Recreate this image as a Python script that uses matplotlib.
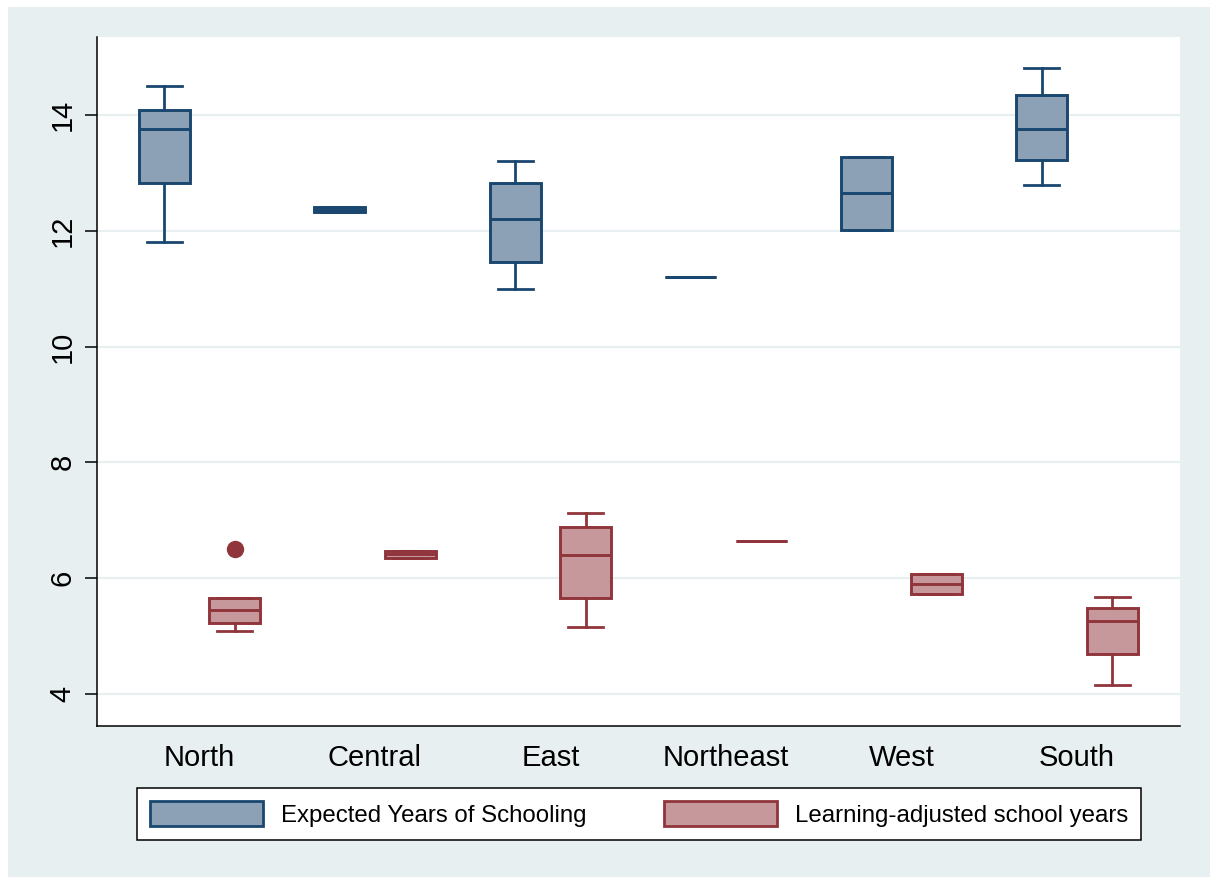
import matplotlib
matplotlib.use("Agg")
import matplotlib.pyplot as plt
from matplotlib.patches import Patch, Rectangle

plt.rcParams["font.family"] = ["Liberation Sans", "DejaVu Sans"]

regions = ["North", "Central", "East", "Northeast", "West", "South"]
series_labels = ["Expected Years of Schooling", "Learning-adjusted school years"]

# Expected Years of Schooling: box-plot summary per region
eys_whislo = [11.80, 12.32, 11.00, 11.20, 12.02, 12.80]
eys_q1 = [12.82, 12.32, 11.46, 11.20, 12.02, 13.23]
eys_med = [13.76, 12.365, 12.21, 11.20, 12.65, 13.76]
eys_q3 = [14.09, 12.41, 12.83, 11.20, 13.28, 14.34]
eys_whishi = [14.51, 12.41, 13.20, 11.20, 13.28, 14.81]
eys_fliers = [[], [], [], [], [], []]

# Learning-adjusted school years: box-plot summary per region
lays_whislo = [5.08, 6.34, 5.16, 6.64, 5.73, 4.16]
lays_q1 = [5.22, 6.34, 5.65, 6.64, 5.73, 4.68]
lays_med = [5.45, 6.41, 6.39, 6.64, 5.89, 5.25]
lays_q3 = [5.65, 6.47, 6.89, 6.64, 6.07, 5.49]
lays_whishi = [5.65, 6.47, 7.12, 6.64, 6.07, 5.68]
lays_fliers = [[6.5], [], [], [], [], []]

y_ticks = [4, 6, 8, 10, 12, 14]

NAVY = "#1A476F"
NAVY_FILL = "#8CA1B5"
MAROON = "#90353B"
MAROON_FILL = "#C6979B"
BG = "#E8EFF1"

W, H = 1210, 877
fig = plt.figure(figsize=(W / 100, H / 100), dpi=100, facecolor="white")
fig.add_artist(Rectangle((8 / W, 0), 1, 1 - 7 / H, transform=fig.transFigure,
                         facecolor=BG, edgecolor="none", zorder=-5))

ax = fig.add_axes([97 / W, (H - 726) / H, (1180 - 97) / W, (726 - 37) / H])
ax.set_facecolor("white")


def stats(lo, q1, med, q3, hi, fl):
    return [dict(whislo=a, q1=b, med=c, q3=d, whishi=e, fliers=f)
            for a, b, c, d, e, f in zip(lo, q1, med, q3, hi, fl)]


def draw(st, positions, edge, fill):
    ax.bxp(st, positions=positions, widths=0.29, capwidths=0.2,
           patch_artist=True, showfliers=True,
           boxprops=dict(facecolor=fill, edgecolor=edge, linewidth=2.1),
           medianprops=dict(color=edge, linewidth=2.1),
           whiskerprops=dict(color=edge, linewidth=2.0),
           capprops=dict(color=edge, linewidth=2.0),
           flierprops=dict(marker="o", markerfacecolor=edge,
                           markeredgecolor=edge, markersize=11.5),
           zorder=3)


idx = list(range(len(regions)))
draw(stats(eys_whislo, eys_q1, eys_med, eys_q3, eys_whishi, eys_fliers),
     [i - 0.2 for i in idx], NAVY, NAVY_FILL)
draw(stats(lays_whislo, lays_q1, lays_med, lays_q3, lays_whishi, lays_fliers),
     [i + 0.2 for i in idx], MAROON, MAROON_FILL)

ax.set_xlim(-0.584, 5.587)
ax.set_ylim(3.443, 15.35)
ax.set_xticks(idx)
ax.set_xticklabels(regions, fontsize=21)
ax.set_yticks(y_ticks)
ax.set_yticklabels([str(t) for t in y_ticks], fontsize=21, rotation=90,
                   va="center")
ax.tick_params(axis="x", length=0, pad=13)
ax.tick_params(axis="y", length=8.5, width=1.1, pad=6, color="black")

ax.grid(axis="y", color=BG, linewidth=1.6, zorder=0)
ax.set_axisbelow(True)
for side in ("top", "right"):
    ax.spines[side].set_visible(False)
for side in ("left", "bottom"):
    ax.spines[side].set_linewidth(1.1)
    ax.spines[side].set_color("black")

handles = [Patch(facecolor=NAVY_FILL, edgecolor=NAVY, linewidth=2.0),
           Patch(facecolor=MAROON_FILL, edgecolor=MAROON, linewidth=2.0)]
leg = fig.legend(handles, series_labels, loc="lower left",
                 bbox_to_anchor=(137 / W, 1 - 840 / H, (1141 - 137) / W, 55 / H),
                 mode="expand", ncol=2, fontsize=17.3, frameon=True,
                 fancybox=False, framealpha=1, edgecolor="black",
                 borderpad=0.55, handlelength=4.7, handleheight=1.2,
                 handletextpad=0.75, borderaxespad=0)
leg.get_frame().set_linewidth(1.1)

fig.savefig("out.png", dpi=100, facecolor=fig.get_facecolor())
